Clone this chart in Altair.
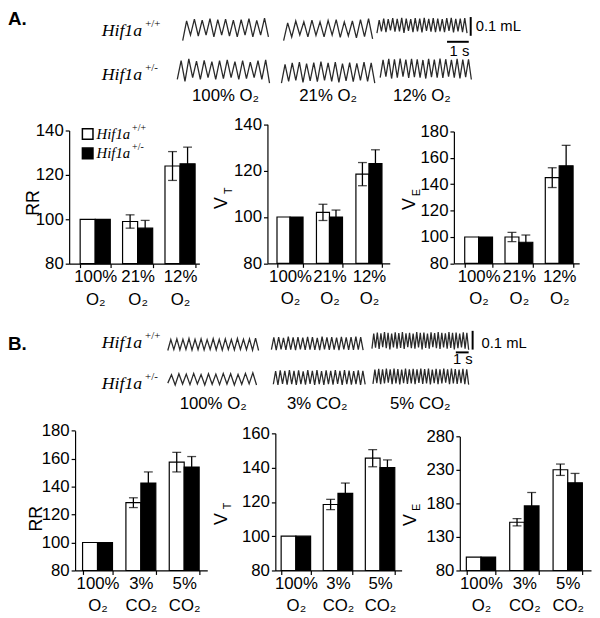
import altair as alt
import pandas as pd

OX, OY = 8, 8          # page margin of the embedding page
W, H = 592, 610        # whole drawing area
ML = 190.0             # px per mL in the trace rows

# ---------------- bar data (normalised to 100 % O2) ----------------
GENOS = ["wt", "het"]
COND_A = ["100% O₂", "21% O₂", "12% O₂"]
COND_B = ["100% O₂", "3% CO₂", "5% CO₂"]

A_RR_WT = [100, 99, 124]
A_RR_WT_SEM = [0, 3, 6.5]
A_RR_HET = [100, 96, 125]
A_RR_HET_SEM = [0, 3.5, 7.5]

A_VT_WT = [100, 102, 118.5]
A_VT_WT_SEM = [0, 3.5, 5]
A_VT_HET = [100, 100, 123]
A_VT_HET_SEM = [0, 3, 6]

A_VE_WT = [100, 100, 145]
A_VE_WT_SEM = [0, 3.5, 7.5]
A_VE_HET = [100, 96, 154]
A_VE_HET_SEM = [0, 5.5, 15.5]

B_RR_WT = [100, 128.5, 157.5]
B_RR_WT_SEM = [0, 3.5, 7]
B_RR_HET = [100, 142.5, 154]
B_RR_HET_SEM = [0, 8, 7.5]

B_VT_WT = [100, 118.5, 145.5]
B_VT_WT_SEM = [0, 3, 5]
B_VT_HET = [100, 125, 140]
B_VT_HET_SEM = [0, 6, 4.5]

B_VE_WT = [100, 152, 230.5]
B_VE_WT_SEM = [0, 5.5, 8.5]
B_VE_HET = [100, 176.5, 211]
B_VE_HET_SEM = [0, 20, 14]

TICKS_A_RR = [80, 100, 120, 140]
TICKS_A_VT = [80, 100, 120, 140]
TICKS_A_VE = [80, 100, 120, 140, 160, 180]
TICKS_B_RR = [80, 100, 120, 140, 160, 180]
TICKS_B_VT = [80, 100, 120, 140, 160]
TICKS_B_VE = [80, 130, 180, 230, 280]

# ---------------- plethysmography traces (mL, peaks / troughs) ----------------
AT1_P = [0.105, 0.115, 0.110, 0.118, 0.112, 0.115, 0.110, 0.112, 0.118, 0.108, 0.120]
AT1_T = [0.000, 0.030, 0.025, 0.030, 0.020, 0.030, 0.025, 0.020, 0.030, 0.020, 0.030, 0.020]
AT2_P = [0.095, 0.105, 0.100, 0.110, 0.100, 0.108, 0.112, 0.100, 0.105, 0.112, 0.118]
AT2_T = [0.000, 0.020, 0.030, 0.020, 0.028, 0.020, 0.030, 0.018, 0.025, 0.015, 0.022, 0.010]
AT3_P = [0.110, 0.118, 0.115, 0.120, 0.116, 0.122, 0.118, 0.115, 0.120, 0.118,
         0.122, 0.116, 0.120, 0.118, 0.115, 0.120, 0.122, 0.116, 0.118, 0.120]
AT3_T = [0.040, 0.050, 0.045, 0.055, 0.048, 0.050, 0.042, 0.052, 0.046, 0.050, 0.044,
         0.052, 0.048, 0.045, 0.050, 0.046, 0.052, 0.044, 0.050, 0.046, 0.040]
AB1_P = [0.120, 0.130, 0.118, 0.122, 0.115, 0.120, 0.125, 0.115, 0.120, 0.112, 0.120, 0.125]
AB1_T = [0.020, 0.010, 0.030, 0.020, 0.030, 0.020, 0.025, 0.030, 0.020, 0.025, 0.030, 0.020, 0.000]
AB2_P = [0.100, 0.108, 0.112, 0.105, 0.110, 0.115, 0.108, 0.112, 0.105, 0.110, 0.106, 0.112, 0.108]
AB2_T = [0.000, 0.010, 0.015, 0.005, 0.012, 0.008, 0.015, 0.010, 0.005, 0.012, 0.008, 0.015, 0.010, 0.000]
AB3_P = [0.125, 0.130, 0.128, 0.132, 0.126, 0.130, 0.128, 0.124, 0.130, 0.126, 0.132, 0.128,
         0.125, 0.130, 0.126, 0.128]
AB3_T = [0.030, 0.035, 0.025, 0.030, 0.035, 0.028, 0.032, 0.030, 0.025, 0.032, 0.030, 0.028,
         0.035, 0.030, 0.026, 0.032, 0.020]

BT1_P = [0.058, 0.062, 0.060, 0.064, 0.060, 0.062, 0.058, 0.063, 0.060, 0.062, 0.059, 0.064,
         0.060, 0.062, 0.066]
BT1_T = [0.000, 0.005, 0.003, 0.006, 0.002, 0.005, 0.003, 0.006, 0.004, 0.002, 0.005, 0.003,
         0.006, 0.004, 0.002, 0.000]
BT2_P = [0.070, 0.072, 0.068, 0.074, 0.070, 0.072, 0.069, 0.073, 0.071, 0.068, 0.074, 0.070,
         0.072, 0.069, 0.073, 0.070, 0.072, 0.074, 0.071]
BT2_T = [0.005, 0.002, 0.006, 0.003, 0.005, 0.002, 0.006, 0.003, 0.005, 0.004, 0.002, 0.006,
         0.003, 0.005, 0.002, 0.006, 0.004, 0.003, 0.005, 0.002]
BT3_P = [0.090, 0.096, 0.092, 0.098, 0.094, 0.090, 0.097, 0.093, 0.099, 0.092, 0.095, 0.091,
         0.098, 0.094, 0.096, 0.090, 0.097, 0.093, 0.099, 0.095, 0.092, 0.098, 0.094, 0.096,
         0.091, 0.097, 0.095]
BT3_T = [0.010, 0.015, 0.008, 0.018, 0.012, 0.006, 0.016, 0.010, 0.014, 0.008, 0.018, 0.012,
         0.010, 0.016, 0.006, 0.014, 0.010, 0.018, 0.012, 0.008, 0.016, 0.010, 0.014, 0.006,
         0.012, 0.016, 0.010, 0.004]
BB1_P = [0.055, 0.060, 0.058, 0.062, 0.056, 0.060, 0.058, 0.062, 0.060, 0.057, 0.062, 0.065]
BB1_T = [0.010, 0.000, 0.005, 0.002, 0.006, 0.000, 0.004, 0.002, 0.005, 0.000, 0.004, 0.006, 0.000]
BB2_P = [0.074, 0.078, 0.076, 0.080, 0.075, 0.078, 0.073, 0.079, 0.076, 0.080, 0.074, 0.078,
         0.076, 0.079, 0.075, 0.080, 0.077, 0.074, 0.078, 0.076]
BB2_T = [0.004, 0.000, 0.006, 0.002, 0.005, 0.000, 0.004, 0.002, 0.006, 0.001, 0.004, 0.000,
         0.005, 0.002, 0.006, 0.001, 0.004, 0.002, 0.005, 0.000, 0.003]
BB3_P = [0.082, 0.086, 0.084, 0.088, 0.083, 0.087, 0.085, 0.082, 0.088, 0.084, 0.086, 0.083,
         0.087, 0.085, 0.088, 0.082, 0.086, 0.084, 0.087, 0.083, 0.088, 0.085, 0.082, 0.086, 0.084]
BB3_T = [0.006, 0.010, 0.004, 0.008, 0.012, 0.005, 0.009, 0.003, 0.010, 0.006, 0.008, 0.004,
         0.011, 0.006, 0.009, 0.003, 0.010, 0.005, 0.008, 0.012, 0.004, 0.009, 0.006, 0.010,
         0.004, 0.002]

SCALE_V = 0.1   # mL
SCALE_T = 1.0   # s

# ---------------- layout (page pixels / row units) ----------------
ROWS = [
    dict(letter="A.", conds=COND_A, pxs=22.0, tmax=26.5, y0=108,
         top_base=0.374, bot_base=0.147,
         top=[(8.05, 12.0, AT1_P, AT1_T), (12.7, 16.8, AT2_P, AT2_T), (17.0, 21.15, AT3_P, AT3_T)],
         bot=[(7.8, 12.05, AB1_P, AB1_T), (12.6, 16.9, AB2_P, AB2_T), (17.15, 21.35, AB3_P, AB3_T)],
         letter_v=0.49, lab_t=6.18, sup_t=6.32, lab_top_v=0.426, lab_bot_v=0.19,
         cond_v=0.079, sbar_t=21.32, sbar_v=0.40, tbar_t=20.23, tbar_v=0.368,
         ml_t=21.55, ml_v=0.453, s_t=20.8, s_v=0.321),
    dict(letter="B.", conds=COND_B, pxs=13.0, tmax=45.0, y0=420,
         top_base=0.363, bot_base=0.179,
         top=[(12.46, 19.54, BT1_P, BT1_T), (20.54, 27.69, BT2_P, BT2_T), (28.38, 35.92, BT3_P, BT3_T)],
         bot=[(12.46, 19.38, BB1_P, BB1_T), (20.69, 27.85, BB2_P, BB2_T), (28.46, 35.92, BB3_P, BB3_T)],
         letter_v=0.395, lab_t=10.46, sup_t=10.69, lab_top_v=0.405, lab_bot_v=0.184,
         cond_v=0.079, sbar_t=36.23, sbar_v=0.368, tbar_t=34.92, tbar_v=0.353,
         ml_t=36.92, ml_v=0.405, s_t=35.46, s_v=0.316),
]

PANELS = [
    dict(conds=COND_A, wt=A_RR_WT, wts=A_RR_WT_SEM, het=A_RR_HET, hets=A_RR_HET_SEM, ticks=TICKS_A_RR,
         title="RR", x=(70, 202), y=(263, 128), pad=(0.29, 0.18, 0.72), tpos=(38.5, 201),
         legend=[("wt", 138.4), ("het", 129.7)]),
    dict(conds=COND_A, wt=A_VT_WT, wts=A_VT_WT_SEM, het=A_VT_HET, hets=A_VT_HET_SEM, ticks=TICKS_A_VT,
         title="V", x=(271, 395), y=(262.7, 121.7), pad=(0.34, 0.22, 0.55), tpos=(230, 201),
         sub=("T", 235, 189)),
    dict(conds=COND_A, wt=A_VE_WT, wts=A_VE_WT_SEM, het=A_VE_HET, hets=A_VE_HET_SEM, ticks=TICKS_A_VE,
         title="V", x=(460, 587), y=(262.7, 129), pad=(0.31, 0.21, 0.64), tpos=(420, 202),
         sub=("E", 425.5, 191)),
    dict(conds=COND_B, wt=B_RR_WT, wts=B_RR_WT_SEM, het=B_RR_HET, hets=B_RR_HET_SEM, ticks=TICKS_B_RR,
         title="RR", x=(76, 210), y=(574, 432.3), pad=(0.31, 0.18, 0.48), tpos=(41.7, 521)),
    dict(conds=COND_B, wt=B_VT_WT, wts=B_VT_WT_SEM, het=B_VT_HET, hets=B_VT_HET_SEM, ticks=TICKS_B_VT,
         title="V", x=(279, 407), y=(574, 435), pad=(0.30, 0.15, 0.46), tpos=(230, 521.5),
         sub=("T", 234.5, 508.5)),
    dict(conds=COND_B, wt=B_VE_WT, wts=B_VE_WT_SEM, het=B_VE_HET, hets=B_VE_HET_SEM, ticks=TICKS_B_VE,
         title="V", x=(466, 599), y=(574, 438.3), pad=(0.325, 0.175, 0.43), tpos=(421, 522.5),
         sub=("E", 426, 510)),
]

SANS = "Liberation Sans"
SERIF = "Liberation Serif"
FILL = alt.Scale(domain=GENOS, range=["white", "black"])


def trace_row(r):
    pts = []
    tid = 0
    for base, group in ((r["top_base"], r["top"]), (r["bot_base"], r["bot"])):
        for (t0, t1, peaks, troughs) in group:
            n = min(len(peaks), len(troughs) - 1)
            per = (t1 - t0) / n
            for i in range(n):
                pts.append({"id": tid, "k": 2 * i, "t": t0 + i * per, "v": base + troughs[i]})
                pts.append({"id": tid, "k": 2 * i + 1, "t": t0 + (i + 0.5) * per, "v": base + peaks[i]})
            pts.append({"id": tid, "k": 2 * n, "t": t1, "v": base + troughs[n]})
            tid += 1
    df = pd.DataFrame(pts)
    xs = alt.Scale(domain=[0, r["tmax"]], range=[0, r["tmax"] * r["pxs"]])
    ys = alt.Scale(domain=[0, 0.55], range=[r["y0"] - OY, r["y0"] - OY - 0.55 * ML])

    def X(f):
        return alt.X(f, type="quantitative", scale=xs, axis=None)

    def Y(f):
        return alt.Y(f, type="quantitative", scale=ys, axis=None)

    lines = alt.Chart(df).mark_line(color="#2a2a2a", strokeWidth=1.3).encode(
        x=X("t"), y=Y("v"), detail="id:N", order="k:Q")

    vbar = alt.Chart(pd.DataFrame([{"t": r["sbar_t"], "v0": r["sbar_v"], "v1": r["sbar_v"] + SCALE_V}])
                     ).mark_rule(color="black", strokeWidth=2).encode(x=X("t"), y=Y("v0"), y2="v1:Q")
    hbar = alt.Chart(pd.DataFrame([{"t0": r["tbar_t"], "t1": r["tbar_t"] + SCALE_T, "v": r["tbar_v"]}])
                     ).mark_rule(color="black", strokeWidth=2).encode(x=X("t0"), x2="t1:Q", y=Y("v"))

    letter = alt.Chart(pd.DataFrame([{"t": 0, "v": r["letter_v"], "s": r["letter"]}])).mark_text(
        align="left", baseline="middle", font=SANS, fontSize=19, fontWeight="bold", color="black"
    ).encode(x=X("t"), y=Y("v"), text="s:N")

    labs = pd.DataFrame([{"t": r["lab_t"], "v": r["lab_top_v"], "s": "Hif1a", "sup": "+/+"},
                         {"t": r["lab_t"], "v": r["lab_bot_v"], "s": "Hif1a", "sup": "+/-"}])
    labs["ts"] = r["sup_t"]
    gl = alt.Chart(labs).mark_text(align="right", baseline="middle", font=SERIF, fontStyle="italic",
                                   fontSize=18, color="black").encode(x=X("t"), y=Y("v"), text="s:N")
    gs = alt.Chart(labs).mark_text(align="left", baseline="middle", font=SERIF, fontSize=11, dy=-7,
                                   color="black").encode(x=X("ts"), y=Y("v"), text="sup:N")

    conds = pd.DataFrame([{"t": (g[0] + g[1]) / 2, "v": r["cond_v"], "s": c}
                          for g, c in zip(r["top"], r["conds"])])
    cl = alt.Chart(conds).mark_text(align="center", baseline="middle", font=SANS, fontSize=17,
                                    color="black").encode(x=X("t"), y=Y("v"), text="s:N")

    sc = pd.DataFrame([{"t": r["ml_t"], "v": r["ml_v"], "s": "0.1 mL", "a": "left"},
                       {"t": r["s_t"], "v": r["s_v"], "s": "1 s", "a": "center"}])
    ml = alt.Chart(sc[sc.a == "left"]).mark_text(align="left", baseline="middle", font=SANS, fontSize=15,
                                                 color="black").encode(x=X("t"), y=Y("v"), text="s:N")
    sl = alt.Chart(sc[sc.a == "center"]).mark_text(align="center", baseline="middle", font=SANS, fontSize=15,
                                                   color="black").encode(x=X("t"), y=Y("v"), text="s:N")
    return alt.layer(lines, vbar, hbar, letter, gl, gs, cl, ml, sl)


def bar_panel(p):
    rows = []
    for i, c in enumerate(p["conds"]):
        rows.append({"cond": c, "geno": "wt", "value": p["wt"][i], "sem": p["wts"][i]})
        rows.append({"cond": c, "geno": "het", "value": p["het"][i], "sem": p["hets"][i]})
    df = pd.DataFrame(rows)
    df["base"] = p["ticks"][0]
    df["lo"] = df["value"] - df["sem"]
    df["hi"] = df["value"] + df["sem"]
    err = df[df["sem"] > 0]

    pi, po, al = p["pad"]
    xs = alt.Scale(domain=p["conds"], range=[p["x"][0] - OX, p["x"][1] - OX],
                   paddingInner=pi, paddingOuter=po, align=al)
    ys = alt.Scale(domain=[p["ticks"][0], p["ticks"][-1]], range=[p["y"][0] - OY, p["y"][1] - OY],
                   nice=False, zero=False)
    xaxis = alt.Axis(orient="bottom", offset=(p["y"][0] - OY) - H, title=None, labelAngle=0,
                     labelExpr="split(datum.label, ' ')", labelLineHeight=23, labelFontSize=17,
                     labelOverlap=False, tickBand="extent", tickSize=4, labelPadding=1, domainWidth=1.2)
    yaxis = alt.Axis(orient="left", offset=-(p["x"][0] - OX), values=p["ticks"], title=p["title"],
                     titleX=p["tpos"][0] - p["x"][0], titleY=p["tpos"][1] - OY, titleAngle=270,
                     titleBaseline="alphabetic", titleAlign="center", titleFontSize=18,
                     titleFontWeight="normal", labelFontSize=17, tickSize=4, labelPadding=2,
                     grid=False, domainWidth=1.2)
    X = alt.X("cond:N", scale=xs, sort=p["conds"], axis=xaxis)
    XO = alt.XOffset("geno:N", scale=alt.Scale(domain=GENOS), sort=GENOS)

    def Y(f):
        return alt.Y(f, type="quantitative", scale=ys, axis=yaxis)

    bars = alt.Chart(df).mark_bar(stroke="black", strokeWidth=1.2).encode(
        x=X, xOffset=XO, y=Y("value"), y2="base:Q",
        fill=alt.Fill("geno:N", scale=FILL, legend=None))
    whisk = alt.Chart(err).mark_rule(color="black", strokeWidth=1.3).encode(
        x=X, xOffset=XO, y=Y("lo"), y2="hi:Q")
    cap_hi = alt.Chart(err).mark_tick(color="black", thickness=1.3, size=9).encode(
        x=X, xOffset=XO, y=Y("hi"))
    cap_lo = alt.Chart(err).mark_tick(color="black", thickness=1.3, size=9).encode(
        x=X, xOffset=XO, y=Y("lo"))
    layers = [bars, whisk, cap_hi, cap_lo]

    if "legend" in p:
        lg = pd.DataFrame([{"cond": p["conds"][0], "geno": "wt", "kind": g, "value": v,
                            "s": "Hif1a", "sup": "+/+" if g == "wt" else "+/-"} for g, v in p["legend"]])
        sq = alt.Chart(lg).mark_square(size=115, stroke="black", strokeWidth=1.5, opacity=1,
                                       filled=True).encode(
            x=X, xOffset=XO, y=Y("value"), fill=alt.Fill("kind:N", scale=FILL, legend=None))
        tx = alt.Chart(lg).mark_text(align="left", baseline="middle", dx=9, font=SERIF,
                                     fontStyle="italic", fontSize=15, color="black").encode(
            x=X, xOffset=XO, y=Y("value"), text="s:N")
        ts = alt.Chart(lg).mark_text(align="left", baseline="middle", dx=45, dy=-6, font=SERIF,
                                     fontSize=10, color="black").encode(
            x=X, xOffset=XO, y=Y("value"), text="sup:N")
        layers += [sq, tx, ts]
    return alt.layer(*layers)


def subscript(p):
    s, px, py = p["sub"]
    return alt.Chart(pd.DataFrame([{"s": s}])).mark_text(
        angle=270, align="center", baseline="alphabetic", font=SANS, fontSize=11, color="black"
    ).encode(text="s:N", x=alt.value(px - OX), y=alt.value(py - OY))


layers = [trace_row(r) for r in ROWS] + [bar_panel(p) for p in PANELS] + \
         [subscript(p) for p in PANELS if "sub" in p]

chart = alt.layer(*layers).resolve_scale(
    x="independent", y="independent", xOffset="independent"
).resolve_axis(x="independent", y="independent").properties(
    width=W, height=H, padding=0, autosize=alt.AutoSizeParams(type="none")
).configure_view(stroke=None).configure_axis(
    domainColor="black", tickColor="black", labelColor="black", titleColor="black",
    labelFont=SANS, titleFont=SANS, tickWidth=1.2
)

chart.save("out.html", embed_options={"renderer": "svg", "actions": False})
